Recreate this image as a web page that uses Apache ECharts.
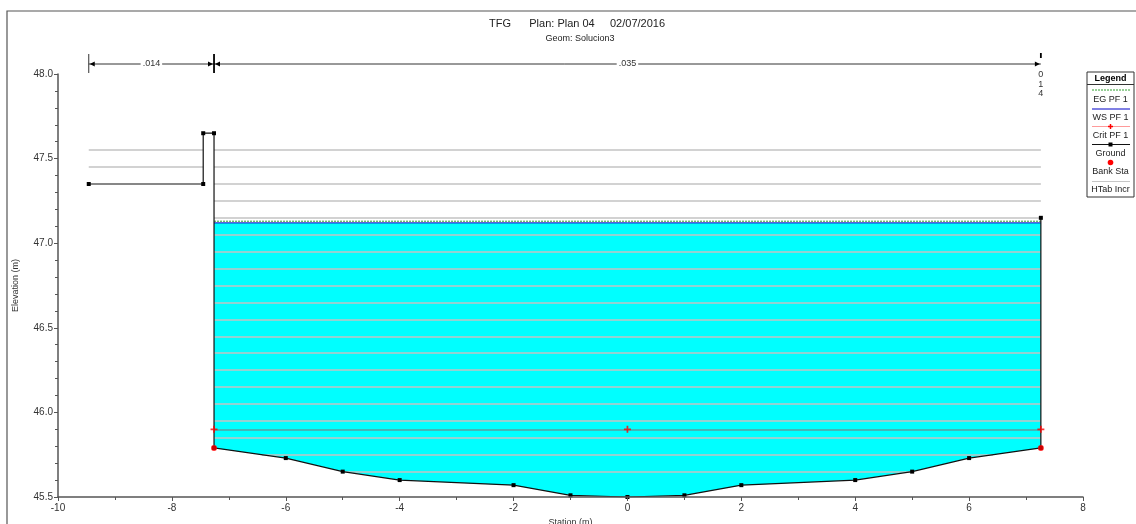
<!DOCTYPE html>
<html>
<head>
<meta charset="utf-8">
<script src="https://cdn.jsdelivr.net/npm/echarts@6/dist/echarts.min.js"></script>
<style>
  html, body { margin: 0; padding: 0; background: #fff; }
  #chart { width: 1136px; height: 524px; }
</style>
</head>
<body>
<div id="chart"></div>
<script>
// cross section ground (station, elevation)
const stations   = [-9.46, -7.45, -7.45, -7.26, -7.26, -6, -5, -4, -2, -1, 0, 1, 2, 4, 5, 6, 7.26, 7.26]
const elevations = [47.35, 47.35, 47.65, 47.65, 45.79, 45.73, 45.65, 45.60, 45.57, 45.51, 45.50, 45.51, 45.57, 45.60, 45.65, 45.73, 45.79, 47.15]
const bankStations = [-7.26, 7.26]
const wsElev = 47.12    // WS PF 1
const egElev = 47.13    // EG PF 1
const critElev = 45.9   // Crit PF 1
const critMarks = [-7.26, 0, 7.26]
const htabLevels = [47.55, 47.45, 47.35, 47.25, 47.15, 47.05, 46.95, 46.85, 46.75, 46.65,
                    46.55, 46.45, 46.35, 46.25, 46.15, 46.05, 45.95, 45.85, 45.75, 45.65]
const nBreaks = [-9.46, -7.26, 7.26]
const nLabels = ['.014', '.035', '.014']

const FONT = 'Liberation Sans, Arial, sans-serif'
const chart = echarts.init(document.getElementById('chart'))

const ground = stations.map((s, i) => [s, elevations[i]])
const bankElev = s => Math.min(...ground.filter(p => p[0] === s).map(p => p[1]))

// x where a ground segment crosses level L
const crossAt = (p, q, L) => p[0] + (L - p[1]) / (q[1] - p[1]) * (q[0] - p[0])

// stretches of the section where the ground lies below level L
function belowIntervals(L) {
  const out = []
  let start = ground[0][1] < L ? ground[0][0] : null
  for (let i = 1; i < ground.length; i++) {
    const p = ground[i - 1], q = ground[i]
    const pb = p[1] < L, qb = q[1] < L
    if (pb && !qb) { out.push([start, crossAt(p, q, L)]); start = null }
    else if (!pb && qb) start = crossAt(p, q, L)
  }
  if (start !== null) out.push([start, ground[ground.length - 1][0]])
  return out
}

// wetted area outline under the water surface
function wetPolygon(L) {
  const pts = []
  for (let i = 1; i < ground.length; i++) {
    const p = ground[i - 1], q = ground[i]
    const pb = p[1] < L, qb = q[1] < L
    if (pb !== qb) pts.push([crossAt(p, q, L), L])
    if (qb) pts.push(q)
  }
  return pts
}

const wetPts = wetPolygon(wsElev)
const htabSegs = []
htabLevels.forEach(l => belowIntervals(l).forEach(iv => htabSegs.push({ coords: [[iv[0], l], [iv[1], l]] })))

const option = {
  animation: false,
  backgroundColor: '#fff',
  title: [
    { text: 'TFG      Plan: Plan 04     02/07/2016', left: 572, top: 13, textAlign: 'center',
      textStyle: { fontFamily: FONT, fontSize: 11, fontWeight: 'normal', color: '#222' } },
    { text: 'Geom: Solucion3', left: 575, top: 29, textAlign: 'center',
      textStyle: { fontFamily: FONT, fontSize: 9, fontWeight: 'normal', color: '#222' } }
  ],
  grid: { left: 58, right: 53, top: 74, bottom: 27, outerBoundsMode: 'none', containLabel: false },
  xAxis: {
    type: 'value', min: -10, max: 8, interval: 2, z: 10,
    name: 'Station (m)', nameLocation: 'middle', nameGap: 20,
    nameTextStyle: { fontFamily: FONT, fontSize: 9, color: '#333' },
    axisLine: { show: true, onZero: false, lineStyle: { color: '#555', width: 1.5 } },
    axisTick: { show: true, inside: false, length: 4, lineStyle: { color: '#555' } },
    minorTick: { show: true, splitNumber: 2, length: 3, lineStyle: { color: '#555' } },
    axisLabel: { fontFamily: FONT, fontSize: 10, color: '#333', margin: 6 },
    splitLine: { show: false }
  },
  yAxis: {
    type: 'value', min: 45.5, max: 48.0, interval: 0.5, z: 10,
    name: 'Elevation (m)', nameLocation: 'middle', nameGap: 38,
    nameTextStyle: { fontFamily: FONT, fontSize: 9, color: '#333' },
    axisLine: { show: true, onZero: false, lineStyle: { color: '#555', width: 1.5 } },
    axisTick: { show: true, inside: false, length: 4, lineStyle: { color: '#555' } },
    minorTick: { show: true, splitNumber: 5, length: 3, lineStyle: { color: '#555' } },
    axisLabel: { fontFamily: FONT, fontSize: 10, color: '#333', margin: 5, formatter: v => v.toFixed(1) },
    splitLine: { show: false }
  },
  series: [
    {
      name: 'Water', type: 'custom', z: 1, silent: true,
      data: wetPts,
      renderItem: (params, api) => params.dataIndex !== 0 ? null : {
        type: 'polygon',
        shape: { points: wetPts.map(p => api.coord(p)) },
        style: { fill: '#00ffff' }
      }
    },
    {
      name: 'WS PF 1', type: 'line', symbol: 'none', z: 2,
      data: bankStations.map(s => [s, wsElev]),
      lineStyle: { color: '#0000c8', width: 1 }
    },
    {
      name: 'EG PF 1', type: 'line', symbol: 'none', z: 2,
      data: bankStations.map(s => [s, egElev]),
      lineStyle: { color: '#2ea02e', width: 1, type: [2, 1] }
    },
    {
      name: 'HTab Incr', type: 'lines', coordinateSystem: 'cartesian2d', silent: true, z: 3,
      data: htabSegs,
      lineStyle: { color: '#c3c3c3', width: 1.6, opacity: 1 }
    },
    {
      name: 'Crit PF 1', type: 'lines', coordinateSystem: 'cartesian2d', silent: true, z: 4,
      data: [{ coords: [[bankStations[0], critElev], [bankStations[1], critElev]] }],
      lineStyle: { color: '#5a9e9e', width: 1.6, opacity: 1 }
    },
    {
      name: 'Ground', type: 'line', data: ground, z: 5,
      symbol: 'rect', symbolSize: 4,
      itemStyle: { color: '#000' },
      lineStyle: { color: '#111', width: 1.2 }
    },
    {
      name: 'Crit marks', type: 'scatter', z: 6,
      data: critMarks.map(s => [s, critElev]),
      symbol: 'path://M3,0H5V3H8V5H5V8H3V5H0V3H3Z', symbolSize: 7,
      itemStyle: { color: '#ff0000' }
    },
    {
      name: 'Bank Sta', type: 'scatter', symbol: 'circle', symbolSize: 6, z: 7,
      data: bankStations.map(s => [s, bankElev(s)]),
      itemStyle: { color: '#ff0000' }
    }
  ]
}
chart.setOption(option)

// n-value bars above the plot + legend box + frame
const px = v => chart.convertToPixel({ xAxisIndex: 0 }, v)
const nx = nBreaks.map(px)
const dimY = 64
const dimColor = '#333'
const g = []
g.push({ type: 'rect', shape: { x: 7, y: 11, width: 1200, height: 600 }, style: { fill: 'none', stroke: '#555', lineWidth: 1.2 }, z: 0 })
g.push({ type: 'line', shape: { x1: nx[0], y1: dimY, x2: nx[2], y2: dimY }, style: { stroke: dimColor, lineWidth: 1 } })
g.push({ type: 'line', shape: { x1: nx[0], y1: 54, x2: nx[0], y2: 73 }, style: { stroke: dimColor, lineWidth: 1 } })
g.push({ type: 'line', shape: { x1: nx[1], y1: 54, x2: nx[1], y2: 73 }, style: { stroke: '#000', lineWidth: 1.8 } })
g.push({ type: 'line', shape: { x1: nx[2], y1: 53, x2: nx[2], y2: 58 }, style: { stroke: '#000', lineWidth: 1.8 } })
const arrow = (x, dir) => ({
  type: 'polygon',
  shape: { points: [[x, dimY], [x + dir * 5, dimY - 2.5], [x + dir * 5, dimY + 2.5]] },
  style: { fill: '#000' }
})
g.push(arrow(nx[0] + 1, 1), arrow(nx[1] - 1, -1), arrow(nx[1] + 1, 1), arrow(nx[2] - 1, -1))
for (let i = 0; i < 2; i++) {
  g.push({
    type: 'text', x: (nx[i] + nx[i + 1]) / 2, y: dimY,
    style: { text: nLabels[i], fill: '#333', font: '9px ' + FONT, align: 'center', verticalAlign: 'middle',
             backgroundColor: '#fff', padding: [0, 2] }
  })
}
g.push({
  type: 'text', x: nx[2], y: 70,
  style: { text: nLabels[2].replace('.', '').split('').join('\n'), fill: '#333', font: '9px ' + FONT,
           align: 'center', verticalAlign: 'top', lineHeight: 9.5 }
})

// legend box
const lgX = 1087, lgW = 47
const lgItems = [
  { label: 'EG PF 1', lineY: 90, textY: 100, stroke: '#2ea02e', dash: [2, 1] },
  { label: 'WS PF 1', lineY: 109, textY: 118, stroke: '#0000c8' },
  { label: 'Crit PF 1', lineY: 126.5, textY: 135.5, stroke: '#ff9a9a', marker: 'plus' },
  { label: 'Ground', lineY: 144.5, textY: 153.5, stroke: '#111', marker: 'rect' },
  { label: 'Bank Sta', lineY: 162.5, textY: 172, marker: 'dot' },
  { label: 'HTab Incr', lineY: 181.5, textY: 189.5, stroke: '#c6c6c6' }
]
g.push({ type: 'rect', shape: { x: lgX, y: 72, width: lgW, height: 125 }, style: { fill: '#fff', stroke: '#333', lineWidth: 1 } })
g.push({ type: 'line', shape: { x1: lgX, y1: 84.5, x2: lgX + lgW, y2: 84.5 }, style: { stroke: '#333', lineWidth: 1 } })
g.push({ type: 'text', x: lgX + lgW / 2, y: 78.5, style: { text: 'Legend', fill: '#000', font: 'bold 9px ' + FONT, align: 'center', verticalAlign: 'middle' } })
lgItems.forEach(it => {
  if (it.stroke) {
    g.push({ type: 'line', shape: { x1: lgX + 5, y1: it.lineY, x2: lgX + lgW - 4, y2: it.lineY },
             style: { stroke: it.stroke, lineWidth: 1, lineDash: it.dash || null } })
  }
  const cx = lgX + lgW / 2
  if (it.marker === 'plus') {
    g.push({ type: 'line', shape: { x1: cx - 2.5, y1: it.lineY, x2: cx + 2.5, y2: it.lineY }, style: { stroke: '#f00', lineWidth: 1.5 } })
    g.push({ type: 'line', shape: { x1: cx, y1: it.lineY - 2.5, x2: cx, y2: it.lineY + 2.5 }, style: { stroke: '#f00', lineWidth: 1.5 } })
  } else if (it.marker === 'rect') {
    g.push({ type: 'rect', shape: { x: cx - 2, y: it.lineY - 2, width: 4, height: 4 }, style: { fill: '#000' } })
  } else if (it.marker === 'dot') {
    g.push({ type: 'circle', shape: { cx: cx, cy: it.lineY, r: 2.8 }, style: { fill: '#f00' } })
  }
  g.push({ type: 'text', x: cx, y: it.textY, style: { text: it.label, fill: '#222', font: '9px ' + FONT, align: 'center', verticalAlign: 'middle' } })
})
chart.setOption({ graphic: { elements: g.map(e => Object.assign({ silent: true, z: e.z === undefined ? 100 : e.z }, e)) } })
</script>
</body>
</html>
